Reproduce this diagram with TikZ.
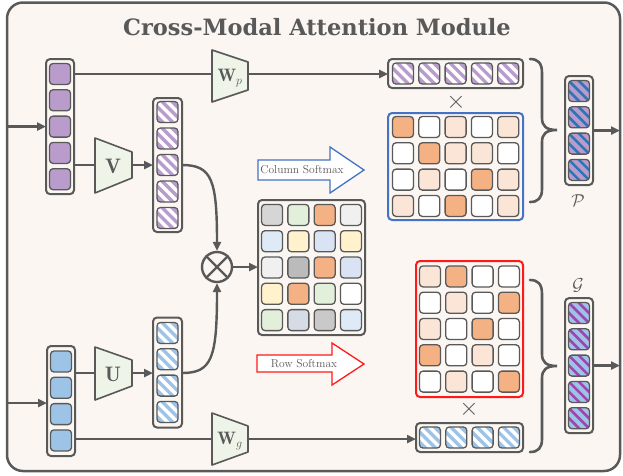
\documentclass[tikz,border=0pt]{standalone}
\usepackage{fontspec}
\newfontfamily\titlefont{DejaVu Serif}
\usetikzlibrary{arrows.meta,calc}
\definecolor{bg}{HTML}{FBF6F2}
\definecolor{dk}{HTML}{595959}
\definecolor{pu}{HTML}{B99BCC}
\definecolor{bu}{HTML}{9DC3E6}
\definecolor{tg}{HTML}{EEF5E8}
\definecolor{or}{HTML}{F4B183}
\definecolor{pe}{HTML}{FBE5D6}
\definecolor{wh}{HTML}{FFFFFF}
\definecolor{lg}{HTML}{D6D6D6}
\definecolor{gr}{HTML}{E2EFDA}
\definecolor{vg}{HTML}{F0F0F0}
\definecolor{lb}{HTML}{DEEBF7}
\definecolor{ye}{HTML}{FFF2CC}
\definecolor{bl}{HTML}{DAE3F3}
\definecolor{mg}{HTML}{BBBBBB}
\definecolor{sl}{HTML}{D6DCE5}
\definecolor{gg}{HTML}{C9C9C9}
\definecolor{frb}{HTML}{4472C4}
\definecolor{frr}{HTML}{FF1A1A}
\definecolor{stb}{HTML}{2E75B6}
\definecolor{stp}{HTML}{9E45B0}
\newcommand\pcell[3]{\draw[cellst,fill=#3] (#1-10.5,#2-10.5) rectangle (#1+10.5,#2+10.5);}
\newcommand\hcell[4]{%
  \begin{scope}
    \clip[rounded corners=3.5pt] (#1-10.5,#2-10.5) rectangle (#1+10.5,#2+10.5);
    \fill[#3] (#1-10.5,#2-10.5) rectangle (#1+10.5,#2+10.5);
    \foreach \hh in {-40,-30,...,40} \draw[#4] (#1+\hh-12,#2-12) -- (#1+\hh+12,#2+12);
  \end{scope}
  \draw[cellst] (#1-10.5,#2-10.5) rectangle (#1+10.5,#2+10.5);}
\begin{document}
\begin{tikzpicture}[x=1pt,y=-1pt,
  conn/.style={draw=dk, line width=2.4pt},
  arr/.style={conn, -{Triangle[length=9pt,width=8pt]}},
  cont/.style={draw=dk, line width=2pt, rounded corners=4pt, fill=bg, inner sep=0pt, outer sep=0pt},
  cellst/.style={draw=dk, line width=1.3pt, rounded corners=3.5pt},
  trap/.style={draw=dk, line width=1.6pt, fill=tg, line join=round},
  lab/.style={text=dk, inner sep=0pt},
  brc/.style={draw=dk, line width=2.6pt, line cap=round},
  sm/.style={line width=1.3pt, fill=wh, line join=miter},
  wst/.style={white, line width=3.4pt},
  bst/.style={stb, line width=2.6pt},
  pst/.style={stp, line width=2.6pt}]
\useasboundingbox (0,0) rectangle (623,475);
\draw[draw=dk, line width=2.5pt, rounded corners=16pt, fill=bg] (7,2.5) rectangle (620,471);
\node[lab, anchor=base, font=\titlefont\bfseries\fontsize{22.5}{24}\selectfont] (title) at (317,35) {Cross-Modal Attention Module};
% containers
\node[cont, minimum width=28pt, minimum height=135pt] (pin) at (60,126.6) {};
\node[cont, minimum width=28pt, minimum height=110pt] (bin) at (61,401) {};
\node[cont, minimum width=29pt, minimum height=134pt] (hp) at (167.5,165) {};
\node[cont, minimum width=29pt, minimum height=110pt] (hb) at (167.5,372.5) {};
\node[cont, minimum width=135pt, minimum height=29pt] (tr) at (455.6,73.5) {};
\node[cont, draw=frb, minimum width=135pt, minimum height=107pt] (bm) at (455.6,166.5) {};
\node[cont, draw=frr, minimum width=107pt, minimum height=136pt] (rm) at (469.5,329) {};
\node[cont, minimum width=107pt, minimum height=29pt] (br) at (469.5,437.5) {};
\node[cont, minimum width=107pt, minimum height=135pt] (cm) at (311.5,267.5) {};
\node[cont, minimum width=28pt, minimum height=109pt] (pc) at (579,130.5) {};
\node[cont, minimum width=28pt, minimum height=135pt] (gc) at (579,365.6) {};
% cells
\foreach \i in {0,...,4} {\pcell{60}{74+\i*26.3}{pu}}
\foreach \i in {0,...,3} {\pcell{61}{361.5+\i*26.3}{bu}}
\foreach \i in {0,...,4} {\hcell{167.5}{112+\i*26.5}{pu}{wst}}
\foreach \i in {0,...,3} {\hcell{167.5}{333+\i*26.3}{bu}{wst}}
\foreach \i in {0,...,4} {\hcell{403+\i*26.3}{73.5}{pu}{wst}}
\foreach \i in {0,...,3} {\hcell{430+\i*26.3}{437.5}{bu}{wst}}
\foreach \i in {0,...,3} {\hcell{579}{91+\i*26.3}{pu}{bst}}
\foreach \i in {0,...,4} {\hcell{579}{313+\i*26.3}{bu}{pst}}
\foreach \cl [count=\r from 0] in {{or,wh,pe,wh,pe},{wh,or,pe,pe,wh},{wh,pe,wh,or,pe},{pe,wh,or,wh,pe}}
  {\foreach \cc [count=\i from 0] in \cl {\pcell{403+\i*26.3}{127+\r*26.3}{\cc}}}
\foreach \cl [count=\r from 0] in {{pe,or,wh,wh},{wh,pe,wh,or},{pe,wh,or,wh},{or,wh,pe,wh},{wh,pe,wh,or}}
  {\foreach \cc [count=\i from 0] in \cl {\pcell{430+\i*26.3}{276.4+\r*26.3}{\cc}}}
\foreach \cl [count=\r from 0] in {{lg,gr,or,vg},{lb,ye,bl,ye},{vg,mg,or,bl},{ye,or,gr,wh},{gr,sl,gg,lb}}
  {\foreach \cc [count=\i from 0] in \cl {\pcell{272.05+\i*26.3}{214.9+\r*26.3}{\cc}}}
% trapezoids
\draw[trap] (212,50) -- (248,62) -- (248,90) -- (212,102) -- cycle;
\draw[trap] (95,138) -- (132,152) -- (132,178) -- (95,193) -- cycle;
\draw[trap] (95,347) -- (132,360) -- (132,386) -- (95,400) -- cycle;
\draw[trap] (212,413) -- (248,426) -- (248,452) -- (212,465) -- cycle;
\node[lab, font=\fontsize{18}{18}\selectfont] (wp) at (230,78) {$\mathbf{W}_{p}$};
\node[lab, font=\fontsize{21}{21}\selectfont] (vl) at (113,166) {$\mathbf{V}$};
\node[lab, font=\fontsize{21}{21}\selectfont] (ul) at (113,374) {$\mathbf{U}$};
\node[lab, font=\fontsize{18}{18}\selectfont] (wg) at (230,441) {$\mathbf{W}_{g}$};
\coordinate (wpL) at (212,74); \coordinate (wpR) at (248,74);
\coordinate (vL) at (95,165); \coordinate (vR) at (132,165);
\coordinate (uL) at (95,373); \coordinate (uR) at (132,373);
\coordinate (wgL) at (212,439); \coordinate (wgR) at (248,439);
% otimes
\node[circle, draw=dk, line width=2.4pt, minimum size=30pt, inner sep=0pt, fill=bg] (ot) at (217,267) {};
\draw[conn, line width=2.2pt] (ot.north west) -- (ot.south east) (ot.north east) -- (ot.south west);
% connectors
\coordinate (inP) at (7,126.6);
\coordinate (inB) at (7,403);
\draw[arr] (inP) -- (pin.west);
\draw[arr] (inB) -- (inB -| bin.west);
\draw[conn] (pin.east |- wpL) -- (wpL);
\draw[arr] (wpR) -- (wpR -| tr.west);
\draw[conn] (pin.east |- vL) -- (vL);
\draw[arr] (vR) -- (vR -| hp.west);
\draw[arr] (vR -| hp.east) .. controls (212,165) and (217,180) .. (ot.north);
\draw[conn] (bin.east |- uL) -- (uL);
\draw[arr] (uR) -- (uR -| hb.west);
\draw[arr] (uR -| hb.east) .. controls (212,373) and (217,358) .. (ot.south);
\draw[arr] (ot.east) -- (ot.east -| cm.west);
\draw[conn] (bin.east |- wgL) -- (wgL);
\draw[arr] (wgR) -- (wgR -| br.west);
\coordinate (outP) at (620,130.5);
\coordinate (outG) at (620,365.6);
\draw[arr] (pc.east) -- (outP);
\draw[arr] (gc.east) -- (outG);
% braces
\draw[brc] (530,59) .. controls (538,59) and (542,63) .. (542,73) -- (542,118) .. controls (542,126) and (546,130) .. (557,130)
  .. controls (546,130) and (542,134) .. (542,142) -- (542,189) .. controls (542,198) and (538,202) .. (530,202);
\draw[brc] (530,280) .. controls (538,280) and (542,284) .. (542,294) -- (542,354) .. controls (542,362) and (546,366) .. (557,366)
  .. controls (546,366) and (542,370) .. (542,378) -- (542,439) .. controls (542,448) and (538,452) .. (530,452);
% times and labels
\node[lab, font=\fontsize{24}{24}\selectfont] (x1) at (456,102) {$\times$};
\node[lab, font=\fontsize{24}{24}\selectfont] (x2) at (469,409) {$\times$};
\node[lab, font=\fontsize{18}{18}\selectfont] (pl) at (578,201) {$\mathcal{P}$};
\node[lab, font=\fontsize{18}{18}\selectfont] (gl) at (578,285) {$\mathcal{G}$};
% softmax arrows
\draw[sm, draw=frb] (258,160) -- (330,160) -- (330,147) -- (364,170) -- (330,193) -- (330,180) -- (258,180) -- cycle;
\node[lab, font=\fontsize{11.5}{11.5}\selectfont] (cs) at (302,170) {Column Softmax};
\draw[sm, draw=frr] (257,355) -- (332,355) -- (332,343) -- (364,364) -- (332,385) -- (332,372) -- (257,372) -- cycle;
\node[lab, font=\fontsize{11.5}{11.5}\selectfont] (rs) at (304,364) {Row Softmax};
\end{tikzpicture}
\end{document}
